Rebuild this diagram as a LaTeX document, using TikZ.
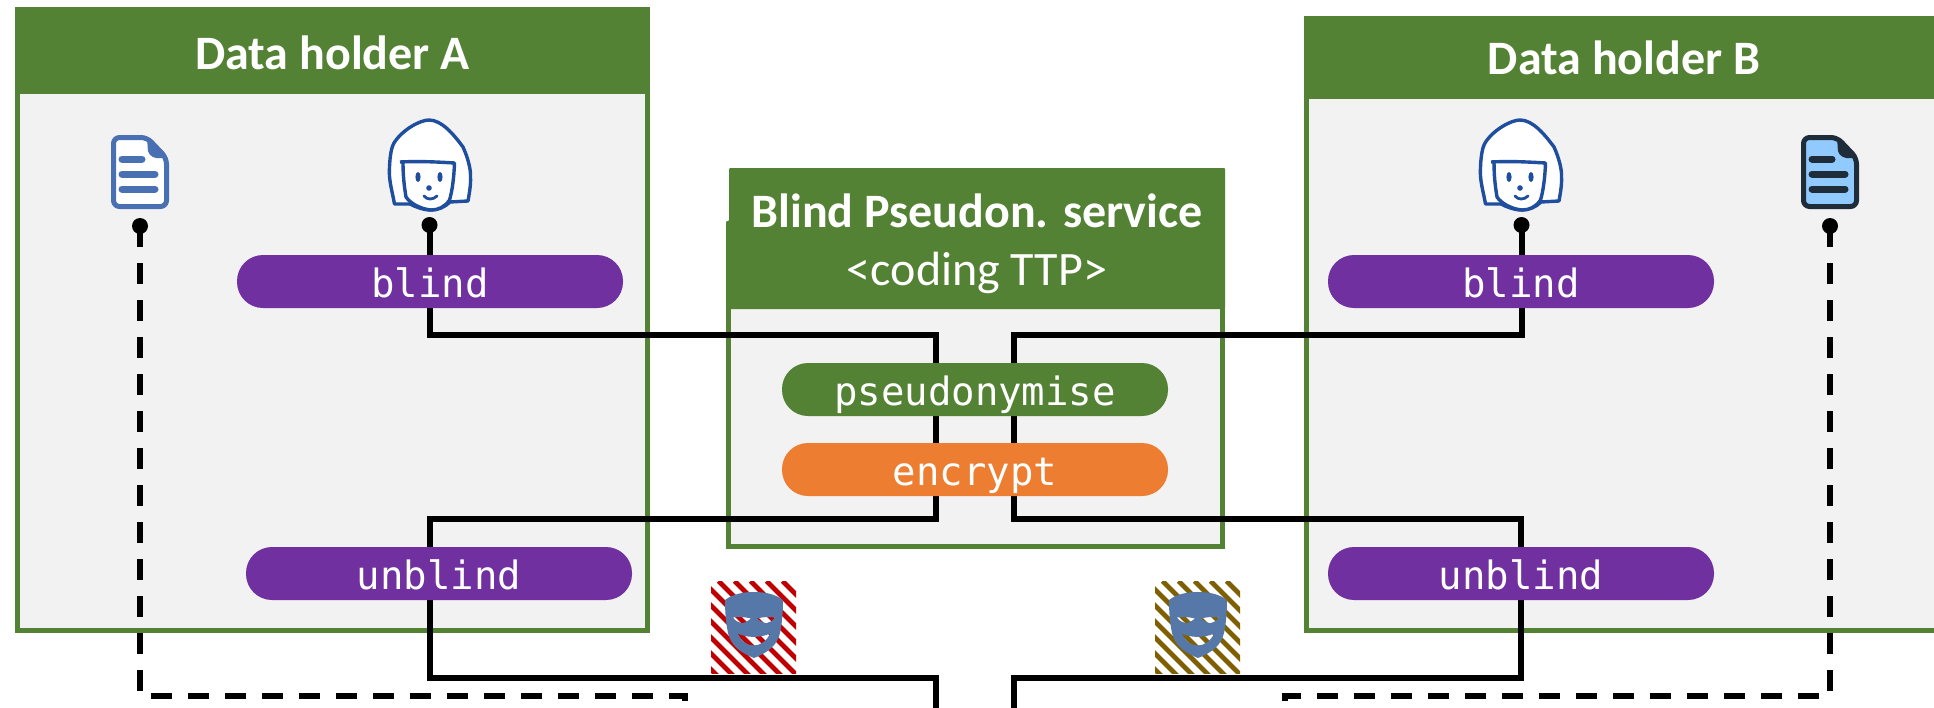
\documentclass[tikz,border=0pt]{standalone}
\usepackage{fontspec}
\setmainfont{Carlito}
\newfontfamily\pillfont{DejaVu Sans Mono}
\definecolor{hdrgreen}{HTML}{548235}
\definecolor{panelgrey}{HTML}{F2F2F2}
\definecolor{pillpurple}{HTML}{7030A0}
\definecolor{pillorange}{HTML}{ED7D31}
\definecolor{facestroke}{HTML}{1F4E9E}
\definecolor{docblue}{HTML}{4A70B4}
\definecolor{docdark}{HTML}{1F2D3A}
\definecolor{doclight}{HTML}{90CAFF}
\definecolor{maskblue}{HTML}{5578A8}
\definecolor{stripered}{HTML}{C00000}
\definecolor{stripebrown}{HTML}{7F6000}
\pgfdeclarelayer{boxes}
\pgfdeclarelayer{wires}
\pgfsetlayers{boxes,wires,main}
\tikzset{
  panel/.style={rectangle,draw=hdrgreen,fill=panelgrey,line width=5pt,inner sep=0pt},
  header/.style={rectangle,fill=hdrgreen,text=white,inner sep=0pt,font=\fontsize{48}{56}\selectfont\bfseries,text depth=0pt},
  pill/.style={rectangle,rounded corners=26pt,minimum width=386pt,minimum height=53pt,inner sep=0pt,text=white,
     font=\pillfont\fontsize{39}{44}\selectfont,text height=32pt,text depth=0pt},
  dotnode/.style={circle,fill=black,minimum size=16pt,inner sep=0pt},
  wire/.style={draw=black,line width=6pt,miter limit=10},
  dashwire/.style={draw=black,line width=5.5pt,dash pattern=on 21pt off 16pt},
  pics/faceicon/.style={code={
    \draw[facestroke,fill=white,line width=3.4pt,line join=round]
      (-35.5,34) .. controls (-38,20) and (-41.5,10) .. (-40.5,-3)
      .. controls (-40,-16) and (-38,-24) .. (-36,-27)
      .. controls (-28,-40) and (-10,-50) .. (-1,-50)
      .. controls (12,-50) and (24,-35) .. (33,-23)
      .. controls (38,-12) and (41,0) .. (40.5,7)
      .. controls (41,15) and (39,25) .. (38,31)
      -- (20,32) .. controls (15,37) and (8,40) .. (1,40)
      .. controls (-7,40) and (-14,37) .. (-20,34) -- cycle;
    \draw[facestroke,fill=white,line width=3.4pt,line join=round]
      (-30,-8) .. controls (-10,-9) and (8,-8) .. (24.5,-7)
      .. controls (24,8) and (22,22) .. (19.5,30)
      .. controls (15,37) and (8,40) .. (1,40)
      .. controls (-10,39) and (-20,33) .. (-24,27)
      .. controls (-26,15) and (-27,5) .. (-27,-8);
    \fill[facestroke] (-12,7) ellipse [x radius=2.6pt,y radius=5pt];
    \fill[facestroke] (10,7) ellipse [x radius=2.6pt,y radius=5pt];
    \fill[facestroke] (-1,18) circle [radius=2.8pt];
    \draw[facestroke,line width=2.8pt,line cap=round] (-6,26) .. controls (-3,30) and (3,30) .. (7,26);
  }},
  pics/docicon/.style n args={2}{code={
    \draw[#1,fill=#2,line width=5pt,rounded corners=6pt,line join=round]
      (-26.5,-34.5) -- (7,-34.5) -- (26.5,-14) -- (26.5,34.5) -- (-26.5,34.5) -- cycle;
    \fill[#1,rounded corners=2pt] (7,-36) -- (28,-14) -- (14,-14) -- (8,-19) -- cycle;
    \draw[#1,line width=7pt,line cap=round] (-18,-13) -- (2,-13);
    \draw[#1,line width=7pt,line cap=round] (-18,2) -- (15,2);
    \draw[#1,line width=7pt,line cap=round] (-18,17) -- (15,17);
  }},
  pics/maskicon/.style={code={
    \begin{scope}
      \clip (0,0) rectangle (85,92);
      \foreach \k in {-6,...,5}
        \draw[#1,line width=4.8pt] ({7.5+16*\k},0) -- ({7.5+16*\k+100},100);
    \end{scope}
    \fill[maskblue,even odd rule]
      (14,19) .. controls (22,13) and (32,11) .. (43,11)
      .. controls (54,11) and (64,13) .. (72,19)
      .. controls (72,32) and (71,42) .. (69,52)
      .. controls (66,64) and (58,71) .. (43,77)
      .. controls (28,71) and (20,64) .. (17,52)
      .. controls (15,42) and (14,32) .. (14,19) -- cycle
      (22,36.5) .. controls (28,35.5) and (34,36) .. (40,37.5)
      .. controls (36,41) and (32,42.5) .. (30,42)
      .. controls (27,41.5) and (24,39.5) .. (22,36.5) -- cycle
      (64,36.5) .. controls (58,35.5) and (52,36) .. (46,37.5)
      .. controls (50,41) and (54,42.5) .. (56,42)
      .. controls (59,41.5) and (62,39.5) .. (64,36.5) -- cycle
      (27,52.5) .. controls (35,57) and (50,57) .. (59,52.5)
      .. controls (56,60) and (49,64.5) .. (43,64.5)
      .. controls (36,64.5) and (30,60) .. (27,52.5) -- cycle;
  }}
}
\begin{document}
\begin{tikzpicture}[x=1pt,y=-1pt]
\useasboundingbox (0,0) rectangle (1934,707);

\begin{pgfonlayer}{boxes}
  \node[panel,minimum width=630pt,minimum height=540.5pt] (bodyA) at (332.5,360.25) {};
  \node[panel,minimum width=639.5pt,minimum height=535.5pt] (bodyB) at (1626,362.75) {};
  \node[panel,minimum width=494pt,minimum height=246.5pt] (bodyC) at (975.5,423.25) {};
  \fill[hdrgreen,rounded corners=1pt] (729,168) -- (1225,168) -- (1225,309) -- (726,309) -- (726,221) -- (729,221) -- cycle;
\end{pgfonlayer}

\node[header,minimum width=635pt,minimum height=87pt,text height=38pt] (hdrA) at (332.5,50.5) {Data holder A};
\node[header,minimum width=640pt,minimum height=83pt,text height=34pt] (hdrB) at (1624,57.5) {Data holder B};
\node[text=white,align=center,inner sep=0pt,font=\fontsize{48}{58}\selectfont] (hdrC) at (977,243.5)
  {{\bfseries Blind Pseudon. service}\\<coding TTP>};

\pic at (430,170) {faceicon};
\pic at (1521,170) {faceicon};
\pic at (140,172) {docicon={docblue}{white}};
\pic at (1830,172) {docicon={docdark}{doclight}};
\pic at (711,581) {maskicon=stripered};
\pic at (1155,581) {maskicon=stripebrown};

\node[dotnode] (dotPA) at (429.5,225) {};
\node[dotnode] (dotDA) at (140,226) {};
\node[dotnode] (dotPB) at (1521.5,225) {};
\node[dotnode] (dotDB) at (1830,226) {};

\node[pill,fill=pillpurple] (blindA) at (430,281.5) {blind};
\node[pill,fill=pillpurple] (unblindA) at (439,573.5) {unblind};
\node[pill,fill=pillpurple] (blindB) at (1521,281.5) {blind};
\node[pill,fill=pillpurple] (unblindB) at (1521,573.5) {unblind};
\node[pill,fill=hdrgreen] (pseudo) at (975,389.5) {pseudonymise};
\node[pill,fill=pillorange] (encrypt) at (975,469.5) {encrypt};

\coordinate (aOne) at (429.5,335);
\coordinate (aTwo) at (936,335);
\coordinate (aThree) at (936,519);
\coordinate (aFour) at (429.5,519);
\coordinate (aFive) at (429.5,678);
\coordinate (aSix) at (936,678);
\coordinate (aEnd) at (936,710);
\coordinate (bOne) at (1521.5,335);
\coordinate (bTwo) at (1014,335);
\coordinate (bThree) at (1014,519);
\coordinate (bFour) at (1520.5,519);
\coordinate (bFive) at (1520.5,678);
\coordinate (bSix) at (1014,678);
\coordinate (bEnd) at (1014,710);
\coordinate (dAOne) at (140,696);
\coordinate (dATwo) at (685,696);
\coordinate (dAEnd) at (685,710);
\coordinate (dBOne) at (1830,696);
\coordinate (dBTwo) at (1285,696);
\coordinate (dBEnd) at (1285,710);

\begin{pgfonlayer}{wires}
  \draw[wire] (dotPA.center) -- (aOne) -- (aTwo) -- (aThree) -- (aFour) -- (aFive) -- (aSix) -- (aEnd);
  \draw[wire] (dotPB.center) -- (bOne) -- (bTwo) -- (bThree) -- (bFour) -- (bFive) -- (bSix) -- (bEnd);
  \draw[dashwire] (dotDA.center) -- (dAOne) -- (dATwo) -- (dAEnd);
  \draw[dashwire] (dotDB.center) -- (dBOne) -- (dBTwo) -- (dBEnd);
\end{pgfonlayer}
\end{tikzpicture}
\end{document}
